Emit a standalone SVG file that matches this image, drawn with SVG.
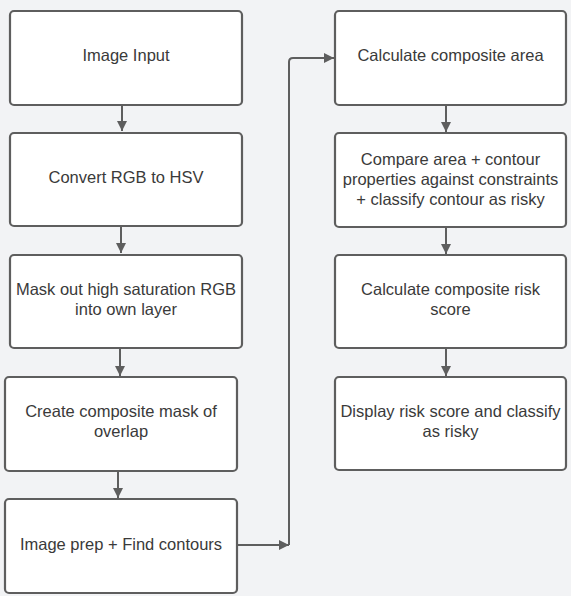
<svg xmlns="http://www.w3.org/2000/svg" width="571" height="596" viewBox="0 0 571 596">
<defs>
<style>
.box{fill:#ffffff;stroke:#5e5e5e;stroke-width:2.2}
.t{font-family:"Liberation Sans",Arial,sans-serif;font-size:16.5px;fill:#3a3a3a;text-anchor:middle}
.c{fill:none;stroke:#5e5e5e;stroke-width:2}
</style>
<marker id="ah" viewBox="0 0 10 10" refX="10" refY="5" markerWidth="10" markerHeight="10" markerUnits="userSpaceOnUse" orient="auto">
<path d="M0,0 L10,5 L0,10 Z" fill="#5e5e5e"/>
</marker>
</defs>
<rect width="571" height="596" fill="#f2f3f5"/>
<g id="connectors">
<path class="c" d="M122,105 V131" marker-end="url(#ah)"/>
<path class="c" d="M121,226 V253" marker-end="url(#ah)"/>
<path class="c" d="M120,348 V376" marker-end="url(#ah)"/>
<path class="c" d="M118,471 V498" marker-end="url(#ah)"/>
<path class="c" d="M237,545 H289" marker-end="url(#ah)"/>
<path class="c" d="M289,545 V62 Q289,58 293,58 H334" marker-end="url(#ah)"/>
<path class="c" d="M446,105 V132" marker-end="url(#ah)"/>
<path class="c" d="M446,227 V254" marker-end="url(#ah)"/>
<path class="c" d="M446,348 V376" marker-end="url(#ah)"/>
</g>
<g id="n1"><rect class="box" x="10" y="11" width="232" height="94" rx="4"/><text class="t" x="126" y="61">Image Input</text></g>
<g id="n2"><rect class="box" x="10" y="133" width="232" height="93" rx="4"/><text class="t" x="126" y="183">Convert RGB to HSV</text></g>
<g id="n3"><rect class="box" x="10" y="255" width="232" height="93" rx="4"/><text class="t" x="126" y="295">Mask out high saturation RGB</text><text class="t" x="126" y="315">into own layer</text></g>
<g id="n4"><rect class="box" x="5" y="377" width="232" height="94" rx="4"/><text class="t" x="121" y="417">Create composite mask of</text><text class="t" x="121" y="437">overlap</text></g>
<g id="n5"><rect class="box" x="5" y="499" width="232" height="94" rx="4"/><text class="t" x="121" y="550">Image prep + Find contours</text></g>
<g id="n6"><rect class="box" x="335" y="11" width="231" height="94" rx="4"/><text class="t" x="450.5" y="61">Calculate composite area</text></g>
<g id="n7"><rect class="box" x="335" y="133" width="231" height="94" rx="4"/><text class="t" x="450.5" y="165">Compare area + contour</text><text class="t" x="450.5" y="185">properties against constraints</text><text class="t" x="450.5" y="205">+ classify contour as risky</text></g>
<g id="n8"><rect class="box" x="335" y="255" width="231" height="93" rx="4"/><text class="t" x="450.5" y="295">Calculate composite risk</text><text class="t" x="450.5" y="315">score</text></g>
<g id="n9"><rect class="box" x="335" y="377" width="231" height="93" rx="4"/><text class="t" x="450.5" y="417">Display risk score and classify</text><text class="t" x="450.5" y="437">as risky</text></g>
</svg>
